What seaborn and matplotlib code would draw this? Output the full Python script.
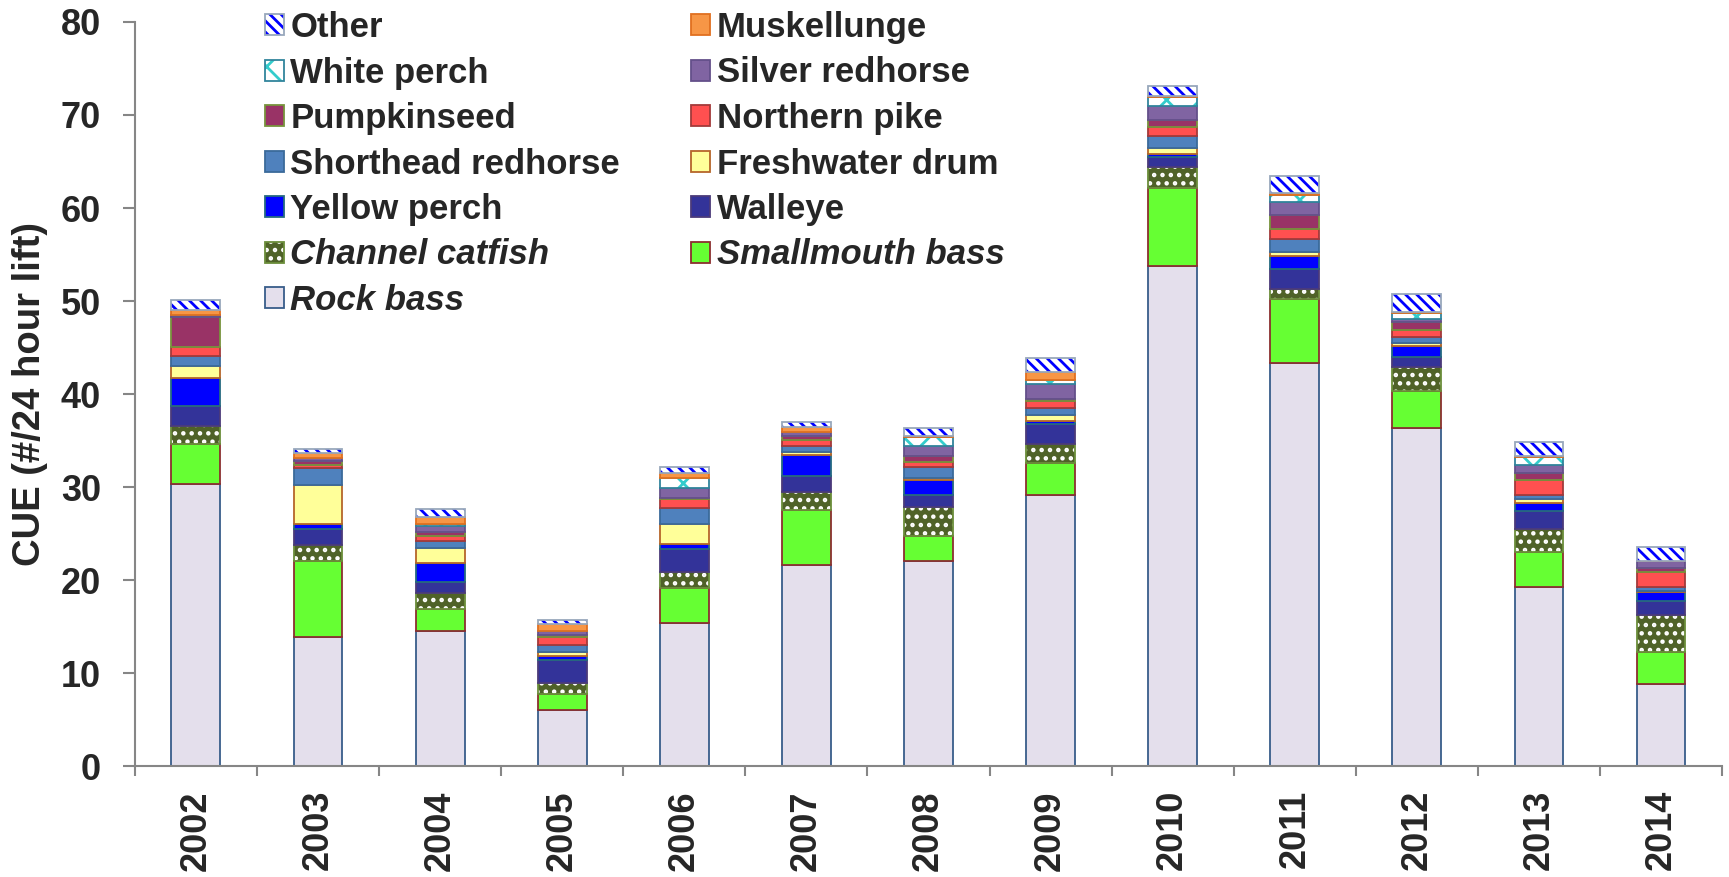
import numpy as np
import matplotlib
matplotlib.use('Agg')
import matplotlib.pyplot as plt
import seaborn as sns
from matplotlib.patches import Patch
from matplotlib.legend_handler import HandlerTuple

years = ['2002', '2003', '2004', '2005', '2006', '2007', '2008',
         '2009', '2010', '2011', '2012', '2013', '2014']

# CUE per species (stacked bottom -> top)
rockBass = [30.3, 13.9, 14.6, 6.1, 15.4, 21.7, 22.1, 29.15, 53.8, 43.3, 36.35, 19.3, 8.9]
smallmouthBass = [4.3, 8.2, 2.3, 1.7, 3.75, 5.9, 2.7, 3.45, 8.4, 6.9, 3.95, 3.7, 3.45]
channelCatfish = [1.95, 1.7, 1.7, 1.15, 1.75, 1.9, 3.1, 2.1, 2.2, 1.1, 2.6, 2.5, 3.95]
walleye = [2.2, 1.7, 1.2, 2.5, 2.5, 1.75, 1.3, 2.1, 1.1, 2.2, 1.1, 1.9, 1.5]
yellowPerch = [3.0, 0.6, 2.1, 0.45, 0.5, 2.25, 1.6, 0.3, 0.3, 1.35, 1.2, 0.95, 0.9]
freshwaterDrum = [1.3, 4.1, 1.6, 0.35, 2.2, 0.3, 0.25, 0.7, 0.7, 0.45, 0.3, 0.35, 0.2]
shortheadRedhorse = [1.1, 1.9, 0.7, 0.8, 1.7, 0.65, 1.1, 0.75, 1.2, 1.4, 0.7, 0.5, 0.35]
northernPike = [0.9, 0.3, 0.6, 0.9, 0.95, 0.65, 0.55, 0.75, 1.0, 1.05, 0.7, 1.6, 1.7]
pumpkinseed = [3.2, 0.4, 0.4, 0.15, 0.15, 0.4, 0.7, 0.2, 0.8, 1.55, 0.9, 0.7, 0.35]
silverRedhorse = [0.25, 0.3, 0.65, 0.5, 1.0, 0.4, 1.0, 1.6, 1.5, 1.3, 0.25, 0.9, 0.8]
whitePerch = [0.0, 0.0, 0.25, 0.0, 1.05, 0.0, 1.0, 0.4, 0.9, 0.8, 0.65, 0.9, 0.0]
muskellunge = [0.55, 0.6, 0.75, 0.7, 0.55, 0.6, 0.1, 0.9, 0.1, 0.2, 0.1, 0.1, 0.0]
other = [1.05, 0.4, 0.8, 0.45, 0.65, 0.55, 0.9, 1.5, 1.1, 1.8, 2.0, 1.45, 1.5]

species = ['Rock bass', 'Smallmouth bass', 'Channel catfish', 'Walleye', 'Yellow perch',
           'Freshwater drum', 'Shorthead redhorse', 'Northern pike', 'Pumpkinseed',
           'Silver redhorse', 'White perch', 'Muskellunge', 'Other']
values = [rockBass, smallmouthBass, channelCatfish, walleye, yellowPerch, freshwaterDrum,
          shortheadRedhorse, northernPike, pumpkinseed, silverRedhorse, whitePerch,
          muskellunge, other]
italicNames = ['Rock bass', 'Smallmouth bass', 'Channel catfish']

# styles
faceColors = ['#E4DFEC', '#66FF33', '#4F6228', '#333399', '#0000FF', '#FFFF99', '#4F81BD',
              '#FF5050', '#993366', '#8064A2', '#FFFFFF', '#F79646', '#FFFFFF']
edgeColors = ['#385D8A', '#8B2F2F', '#6B8E3A', '#4B3A7A', '#256A80', '#B5662A', '#3A6A9A',
              '#A33A3A', '#77933C', '#64508A', '#31859C', '#E07020', '#98A8BC']
hatches = [None, None, '..', None, None, None, None, None, None, None, 'x', None, '\\\\\\']
hatchColors = [None, None, '#FFFFFF', None, None, None, None, None, None, None, '#33CCCC',
               None, '#0000FF']

sns.set_style('ticks')
plt.rcParams['hatch.linewidth'] = 2.0

fig, ax = plt.subplots(figsize=(17.29, 8.77), dpi=100)
fig.subplots_adjust(left=0.078, right=0.996, bottom=0.126, top=0.975)

barWidth = 0.4
bottom = np.zeros(len(years))
legendHandles = {}
for name, vals, fc, ec, hatch, hc in zip(species, values, faceColors, edgeColors, hatches, hatchColors):
    vals = np.array(vals)
    if hatch:
        sns.barplot(x=years, y=vals, bottom=bottom, color=fc, saturation=1, width=barWidth,
                    edgecolor=hc, hatch=hatch, linewidth=0, errorbar=None, ax=ax)
        sns.barplot(x=years, y=vals, bottom=bottom, color=ec, fill=False, width=barWidth,
                    linewidth=1.3, errorbar=None, ax=ax)
        legendHandles[name] = (Patch(facecolor=fc, edgecolor=hc, hatch=hatch, linewidth=0),
                               Patch(fill=False, edgecolor=ec, linewidth=1.3))
    else:
        sns.barplot(x=years, y=vals, bottom=bottom, color=fc, saturation=1, width=barWidth,
                    edgecolor=ec, linewidth=1.3, errorbar=None, ax=ax)
        legendHandles[name] = Patch(facecolor=fc, edgecolor=ec, linewidth=1.3)
    bottom = bottom + vals

ax.set_xlim(-0.5, len(years) - 0.5)
ax.set_ylim(0, 80)
ax.set_yticks(range(0, 81, 10))
sns.despine(ax=ax)

axisColor = '#868686'
for side in ['left', 'bottom']:
    ax.spines[side].set_color(axisColor)
    ax.spines[side].set_linewidth(1.5)

ax.set_xticks(np.arange(len(years)))
ax.set_xticks(np.arange(-0.5, len(years)), minor=True)
ax.tick_params(axis='x', which='major', length=0, pad=17)
ax.tick_params(axis='x', which='minor', length=7, width=1.5, color=axisColor)
ax.tick_params(axis='y', length=8.5, width=1.5, color=axisColor, pad=16)
ax.set_xticklabels(years, rotation=90, fontsize=26, fontweight='bold', family='Liberation Sans')
for lbl in ax.get_yticklabels():
    lbl.set_fontsize(26)
    lbl.set_fontweight('bold')
    lbl.set_family('Liberation Sans')

ax.set_xlabel('')
ax.set_ylabel('CUE (#/24 hour lift)', fontsize=27.5, fontweight='bold',
              family=['Liberation Sans Narrow', 'Liberation Sans'], labelpad=9)

rev = species[::-1]
order = rev[0::2] + rev[1::2]
leg = fig.legend([legendHandles[n] for n in order], order, ncol=2,
                 loc='upper left', bbox_to_anchor=(265 / 1729, 1 - 11 / 877),
                 frameon=False, borderpad=0, borderaxespad=0,
                 handlelength=0.55, handleheight=0.55, handletextpad=0.18,
                 columnspacing=2.05, labelspacing=0.36,
                 handler_map={tuple: HandlerTuple(ndivide=1, pad=0)},
                 prop={'family': 'Liberation Sans', 'weight': 'bold', 'size': 25})
for txt in leg.get_texts():
    if txt.get_text() in italicNames:
        txt.set_style('italic')

fig.savefig('out.png', dpi=100)
